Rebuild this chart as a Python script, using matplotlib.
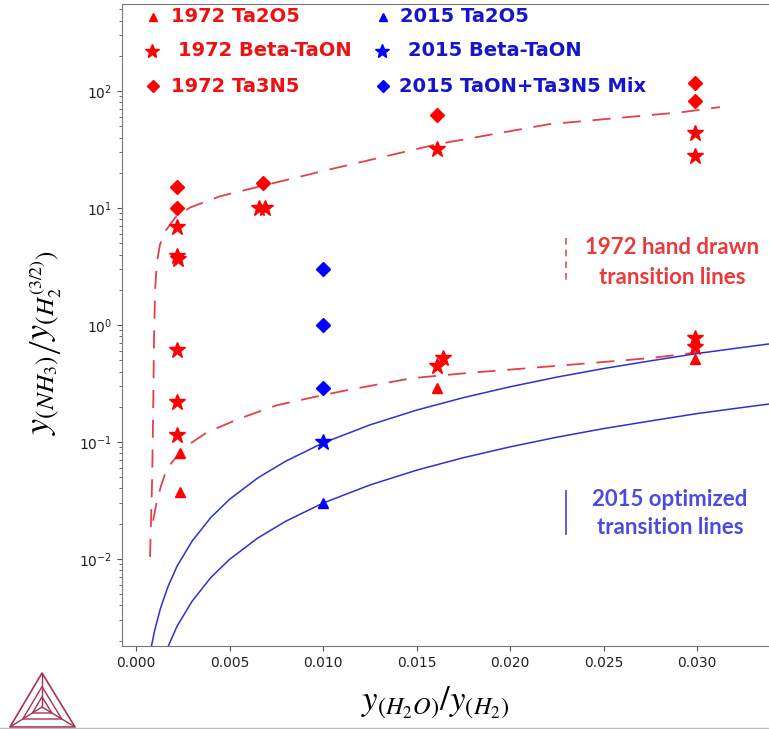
import matplotlib
matplotlib.use('Agg')
import matplotlib.pyplot as plt
from matplotlib.lines import Line2D
from matplotlib.patches import Polygon

# ---------------- data ----------------
ta2o5_1972_x = [0.00235, 0.00235, 0.0161, 0.0299]
ta2o5_1972_y = [0.080, 0.037, 0.29, 0.51]

taon_1972_x = [0.0022, 0.0022, 0.00225, 0.0022, 0.0022, 0.0022,
               0.0066, 0.0069, 0.0161, 0.0161, 0.0164,
               0.0299, 0.0299, 0.0299, 0.0299]
taon_1972_y = [6.9, 3.9, 3.7, 0.61, 0.22, 0.114,
               10.1, 10.1, 31.8, 0.45, 0.52,
               43.6, 27.7, 0.77, 0.65]

ta3n5_1972_x = [0.0022, 0.0022, 0.0068, 0.0161, 0.0299, 0.0299]
ta3n5_1972_y = [15.0, 10.1, 16.5, 63.0, 117.0, 82.0]

ta2o5_2015_x = [0.010]
ta2o5_2015_y = [0.030]
taon_2015_x = [0.010]
taon_2015_y = [0.099]
mix_2015_x = [0.010, 0.010, 0.010]
mix_2015_y = [0.29, 1.0, 3.0]

# 1972 hand drawn transition lines
red_upper_x = [0.00075, 0.0008, 0.00086, 0.00091, 0.00096, 0.00102, 0.00112,
               0.00128, 0.00155, 0.00209, 0.00289, 0.00449, 0.00684, 0.01037,
               0.0161, 0.0221, 0.02925, 0.03123]
red_upper_y = [0.0104, 0.0212, 0.0468, 0.153, 0.743, 2.0, 3.47,
               4.86, 6.28, 8.28, 10.1, 12.6, 15.6, 21.4,
               35.1, 52.1, 66.1, 72.9]

red_lower_x = [0.00091, 0.00112, 0.00134, 0.00166, 0.00209, 0.00251, 0.0038,
               0.00556, 0.00754, 0.00947, 0.01128, 0.01476, 0.0177, 0.0230,
               0.0275, 0.03016]
red_lower_y = [0.0212, 0.0315, 0.0423, 0.0593, 0.0722, 0.0879, 0.121,
               0.159, 0.206, 0.241, 0.277, 0.351, 0.388, 0.454,
               0.521, 0.587]

# 2015 optimized transition lines
blue_upper_x = [0.0008, 0.001, 0.0013, 0.0017, 0.0022, 0.003, 0.004, 0.005,
                0.0065, 0.008, 0.010, 0.0125, 0.015, 0.0175, 0.020, 0.0225,
                0.025, 0.0275, 0.030, 0.0325, 0.035]
blue_upper_y = [0.00172, 0.00246, 0.00374, 0.00575, 0.0087, 0.0142, 0.0226, 0.0323,
                0.0491, 0.0684, 0.098, 0.1397, 0.187, 0.239, 0.296, 0.358,
                0.424, 0.493, 0.570, 0.645, 0.727]

blue_lower_x = [0.0017, 0.0022, 0.003, 0.004, 0.005, 0.0065, 0.008, 0.010,
                0.0125, 0.015, 0.0175, 0.020, 0.0225, 0.025, 0.0275, 0.030,
                0.0325, 0.035]
blue_lower_y = [0.00176, 0.00267, 0.00435, 0.00693, 0.0099, 0.01505, 0.02096, 0.0300,
                0.0428, 0.0573, 0.0733, 0.0907, 0.1097, 0.130, 0.151, 0.1747,
                0.1977, 0.2228]

x_ticks = [0.000, 0.005, 0.010, 0.015, 0.020, 0.025, 0.030]
legend_labels = ['1972 Ta2O5', '1972 Beta-TaON', '1972 Ta3N5',
                 '2015 Ta2O5', '2015 Beta-TaON', '2015 TaON+Ta3N5 Mix']

# ---------------- figure ----------------
W, H = 769, 729
fig = plt.figure(figsize=(W / 100, H / 100), dpi=100)


def fx(px):
    return px / W


def fy(py):
    return 1 - py / H


ax = fig.add_axes([fx(122), fy(646), 1 - fx(122), fy(4) - fy(646)])
ax.set_yscale('log')
ax.set_xlim(-0.00075, 0.03385)
ax.set_ylim(0.0018, 555)

RED = '#ff0000'
BLUE = '#0000ff'
RED_LINE = '#e4404a'
BLUE_LINE = '#3030d0'

ax.plot(red_upper_x, red_upper_y, color=RED_LINE, lw=1.3, dashes=(10, 6.5))
ax.plot(red_lower_x, red_lower_y, color=RED_LINE, lw=1.3, dashes=(10, 6.5))
ax.plot(blue_upper_x, blue_upper_y, color=BLUE_LINE, lw=1.1)
ax.plot(blue_lower_x, blue_lower_y, color=BLUE_LINE, lw=1.1)

ax.plot(ta2o5_1972_x, ta2o5_1972_y, ls='none', marker='^', ms=7, color=RED)
ax.plot(taon_1972_x, taon_1972_y, ls='none', marker='*', ms=12, color=RED)
ax.plot(ta3n5_1972_x, ta3n5_1972_y, ls='none', marker='D', ms=7, color=RED)
ax.plot(ta2o5_2015_x, ta2o5_2015_y, ls='none', marker='^', ms=7, color=BLUE)
ax.plot(taon_2015_x, taon_2015_y, ls='none', marker='*', ms=12, color=BLUE)
ax.plot(mix_2015_x, mix_2015_y, ls='none', marker='D', ms=7, color=BLUE)

ax.set_xticks(x_ticks)
ax.set_xticklabels([f'{t:.3f}' for t in x_ticks])
ax.tick_params(axis='both', which='both', colors='#555555', labelcolor='#222222',
               labelsize=10)
for s in ['left', 'bottom', 'top']:
    ax.spines[s].set_color('#777777')
ax.spines['right'].set_visible(False)

# axis labels
fig.text(fx(46), fy(343), r'$y_{(NH_3)}\left/y_{(H_2^{(3/2)})}\right.$',
         rotation=90, ha='center', va='center', fontsize=26, math_fontfamily='stix')
fig.text(fx(435), fy(703), r'$y_{(H_2O)}\left/y_{(H_2)}\right.$',
         ha='center', va='center', fontsize=25, math_fontfamily='stix')

# legend (manual)
leg_markers = ['^', '*', 'D', '^', '*', 'D']
leg_sizes = [6, 10, 6, 6, 10, 6]
leg_colors = [RED, RED, RED, BLUE, BLUE, BLUE]
leg_text_colors = ['#ee1111'] * 3 + ['#1515cc'] * 3
leg_mx = [153, 152, 153, 383, 382, 383]
leg_tx = [171, 178, 171, 400, 408, 399]
leg_y = [17, 51, 86, 17, 51, 86]
for lab, m, s, c, tc, mx, tx, y in zip(legend_labels, leg_markers, leg_sizes, leg_colors,
                                       leg_text_colors, leg_mx, leg_tx, leg_y):
    fig.add_artist(Line2D([fx(mx)], [fy(y)], marker=m, ms=s, color=c, ls='none',
                          transform=fig.transFigure))
    fig.text(fx(tx), fy(y), lab, color=tc, fontsize=14, fontweight='bold',
             ha='left', va='center', family='DejaVu Sans')

# annotations
fig.add_artist(Line2D([fx(566), fx(566)], [fy(238), fy(284)], color='#e05050', lw=1.2,
                      dashes=(4, 3), transform=fig.transFigure))
fig.text(fx(672), fy(248), '1972 hand drawn', color='#ea3a3c', fontsize=16,
         fontweight='bold', family='Lato', ha='center', va='center')
fig.text(fx(672), fy(278), 'transition lines', color='#ea3a3c', fontsize=16,
         fontweight='bold', family='Lato', ha='center', va='center')

fig.add_artist(Line2D([fx(566), fx(566)], [fy(491), fy(534)], color='#5050dd', lw=1.3,
                      transform=fig.transFigure))
fig.text(fx(670), fy(500), '2015 optimized', color='#4b4be4', fontsize=16,
         fontweight='bold', family='Lato', ha='center', va='center')
fig.text(fx(670), fy(528), 'transition lines', color='#4b4be4', fontsize=16,
         fontweight='bold', family='Lato', ha='center', va='center')

# logo
lax = fig.add_axes([0, 0, fx(90), 1 - fy(65)])
lax.set_xlim(0, 90)
lax.set_ylim(0, 65)
lax.axis('off')
LOGO = '#a8324e'
A, Bl, Br, C = (42, 56), (10, 2), (75, 2), (42, 22)
lax.add_patch(Polygon([A, Bl, Br], closed=True, fill=False, ec=LOGO, lw=1.2))
for f in (0.6, 0.3):
    pts = [(C[0] + (p[0] - C[0]) * f, C[1] + (p[1] - C[1]) * f) for p in (A, Bl, Br)]
    lax.add_patch(Polygon(pts, closed=True, fill=False, ec=LOGO, lw=1.0))
for p in (A, Bl, Br):
    lax.plot([C[0], p[0]], [C[1], p[1]], color=LOGO, lw=1.0)

# bottom divider of the screenshot
fig.add_artist(Line2D([0, 1], [fy(727.5), fy(727.5)], color='#bbbbbb', lw=1,
                      transform=fig.transFigure))

fig.savefig('out.png', dpi=100)
